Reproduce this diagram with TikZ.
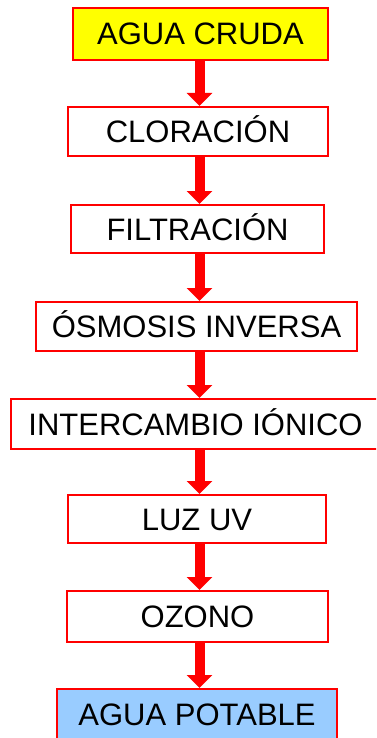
\documentclass[tikz,border=0pt]{standalone}
\usepackage{fontspec}
\setmainfont{Liberation Sans}
\usetikzlibrary{arrows.meta}
\definecolor{boxred}{RGB}{255,0,0}
\definecolor{startfill}{RGB}{255,255,0}
\definecolor{endfill}{RGB}{153,204,255}
\tikzset{
  stepbox/.style={draw=boxred, line width=2pt, fill=white, inner sep=0pt,
    font=\fontsize{31}{31}\selectfont, text height=22pt, text depth=0pt, align=center},
  flowarrow/.style={draw=boxred, line width=10pt, -{Triangle[width=25pt,length=13pt]}, shorten >=0pt}
}
\begin{document}
\begin{tikzpicture}[x=1pt,y=-1pt]
\clip (0,0) rectangle (376,738);
\fill[white] (0,0) rectangle (376,738);
\node[stepbox, fill=startfill, minimum width=255pt, minimum height=52pt] (n1) at (200.5,34) {AGUA CRUDA};
\node[stepbox, minimum width=260pt, minimum height=49pt] (n2) at (198,131.5) {CLORACIÓN};
\node[stepbox, minimum width=253pt, minimum height=48pt] (n3) at (197.5,229) {FILTRACIÓN};
\node[stepbox, minimum width=321pt, minimum height=49pt] (n4) at (196.5,326.5) {ÓSMOSIS INVERSA};
\node[stepbox, minimum width=369pt, minimum height=50pt] (n5) at (195.5,424) {INTERCAMBIO IÓNICO};
\node[stepbox, minimum width=258pt, minimum height=48pt] (n6) at (197,519) {LUZ UV};
\node[stepbox, minimum width=261pt, minimum height=51pt] (n7) at (197.5,616.5) {OZONO};
\node[stepbox, fill=endfill, minimum width=280pt, minimum height=50pt] (n8) at (197,714) {AGUA POTABLE};
\coordinate (ax) at (199.5,0);
\draw[flowarrow] (n1.south -| ax) -- (n2.north -| ax);
\draw[flowarrow] (n2.south -| ax) -- (n3.north -| ax);
\draw[flowarrow] (n3.south -| ax) -- (n4.north -| ax);
\draw[flowarrow] (n4.south -| ax) -- (n5.north -| ax);
\draw[flowarrow] (n5.south -| ax) -- (n6.north -| ax);
\draw[flowarrow] (n6.south -| ax) -- (n7.north -| ax);
\draw[flowarrow] (n7.south -| ax) -- (n8.north -| ax);
\end{tikzpicture}
\end{document}
